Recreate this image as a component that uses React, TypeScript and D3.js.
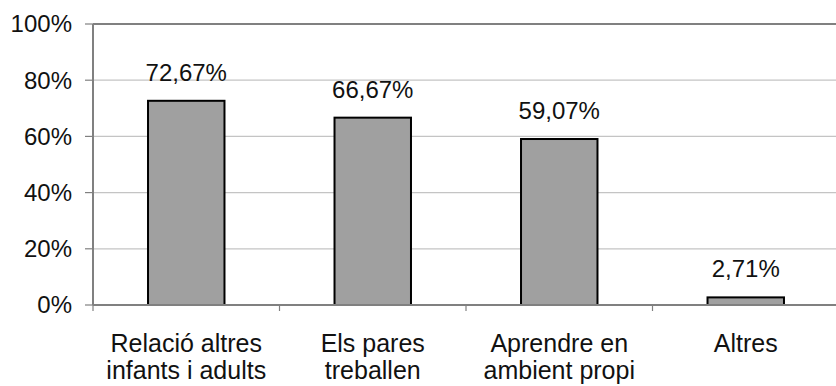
import React from "react";
import * as d3 from "d3";

const categories: string[][] = [
  ["Relació altres", "infants i adults"],
  ["Els pares", "treballen"],
  ["Aprendre en", "ambient propi"],
  ["Altres"],
];
const values: number[] = [72.67, 66.67, 59.07, 2.71];
const yTicks: number[] = [0, 20, 40, 60, 80, 100];

const W = 836;
const H = 386;
const margin = { left: 93, right: -3, top: 24, bottom: 81 };
const FONT = "'Liberation Sans', Arial, sans-serif";

export default function App() {
  const x = d3
    .scaleBand<number>()
    .domain(values.map((_, i) => i))
    .range([margin.left, W - margin.right])
    .paddingInner(0.59)
    .paddingOuter(0.295);
  const y = d3.scaleLinear().domain([0, 100]).range([H - margin.bottom, margin.top]);
  const fmt = (v: number) => v.toFixed(2).replace(".", ",") + "%";

  const x0 = margin.left;
  const x1 = W - margin.right;
  const boundaries = d3.range(values.length + 1).map((i) => x0 + (x1 - x0) * (i / values.length));

  return (
    <svg
      width={W}
      height={H}
      style={{ position: "absolute", left: 0, top: 0, background: "#fff" }}
      fontFamily={FONT}
    >
      {/* horizontal gridlines */}
      {yTicks.map((t) => (
        <line
          key={"g" + t}
          x1={x0}
          x2={x1}
          y1={y(t)}
          y2={y(t)}
          stroke={t === 100 ? "#808080" : "#c4c4c4"}
          strokeWidth={t === 100 ? 2 : 1.2}
        />
      ))}
      {/* y axis with ticks and labels */}
      <line x1={x0} x2={x0} y1={y(100)} y2={y(0)} stroke="#808080" strokeWidth={2} />
      {yTicks.map((t) => (
        <g key={"t" + t}>
          <line x1={x0 - 8} x2={x0} y1={y(t)} y2={y(t)} stroke="#808080" strokeWidth={1.2} />
          <text
            x={x0 - 21}
            y={y(t)}
            dy="0.35em"
            textAnchor="end"
            fontSize={24}
            fill="#111"
          >
            {t}%
          </text>
        </g>
      ))}
      {/* bars */}
      {values.map((v, i) => (
        <g key={"b" + i}>
          <rect
            x={x(i)!}
            y={y(v)}
            width={x.bandwidth()}
            height={y(0) - y(v)}
            fill="#a0a0a0"
            stroke="#000"
            strokeWidth={2}
          />
          <text
            x={x(i)! + x.bandwidth() / 2}
            y={y(v) - 20}
            textAnchor="middle"
            fontSize={24}
            fill="#111"
          >
            {fmt(v)}
          </text>
        </g>
      ))}
      {/* x axis */}
      <line x1={x0} x2={x1} y1={y(0)} y2={y(0)} stroke="#808080" strokeWidth={2} />
      {boundaries.map((bx, i) => (
        <line key={"xt" + i} x1={bx} x2={bx} y1={y(0)} y2={y(0) + 6} stroke="#808080" strokeWidth={1.2} />
      ))}
      {categories.map((lines, i) => (
        <text
          key={"c" + i}
          x={x(i)! + x.bandwidth() / 2}
          y={y(0) + 47}
          textAnchor="middle"
          fontSize={25}
          fill="#111"
        >
          {lines.map((l, j) => (
            <tspan key={j} x={x(i)! + x.bandwidth() / 2} dy={j === 0 ? 0 : 27}>
              {l}
            </tspan>
          ))}
        </text>
      ))}
    </svg>
  );
}
